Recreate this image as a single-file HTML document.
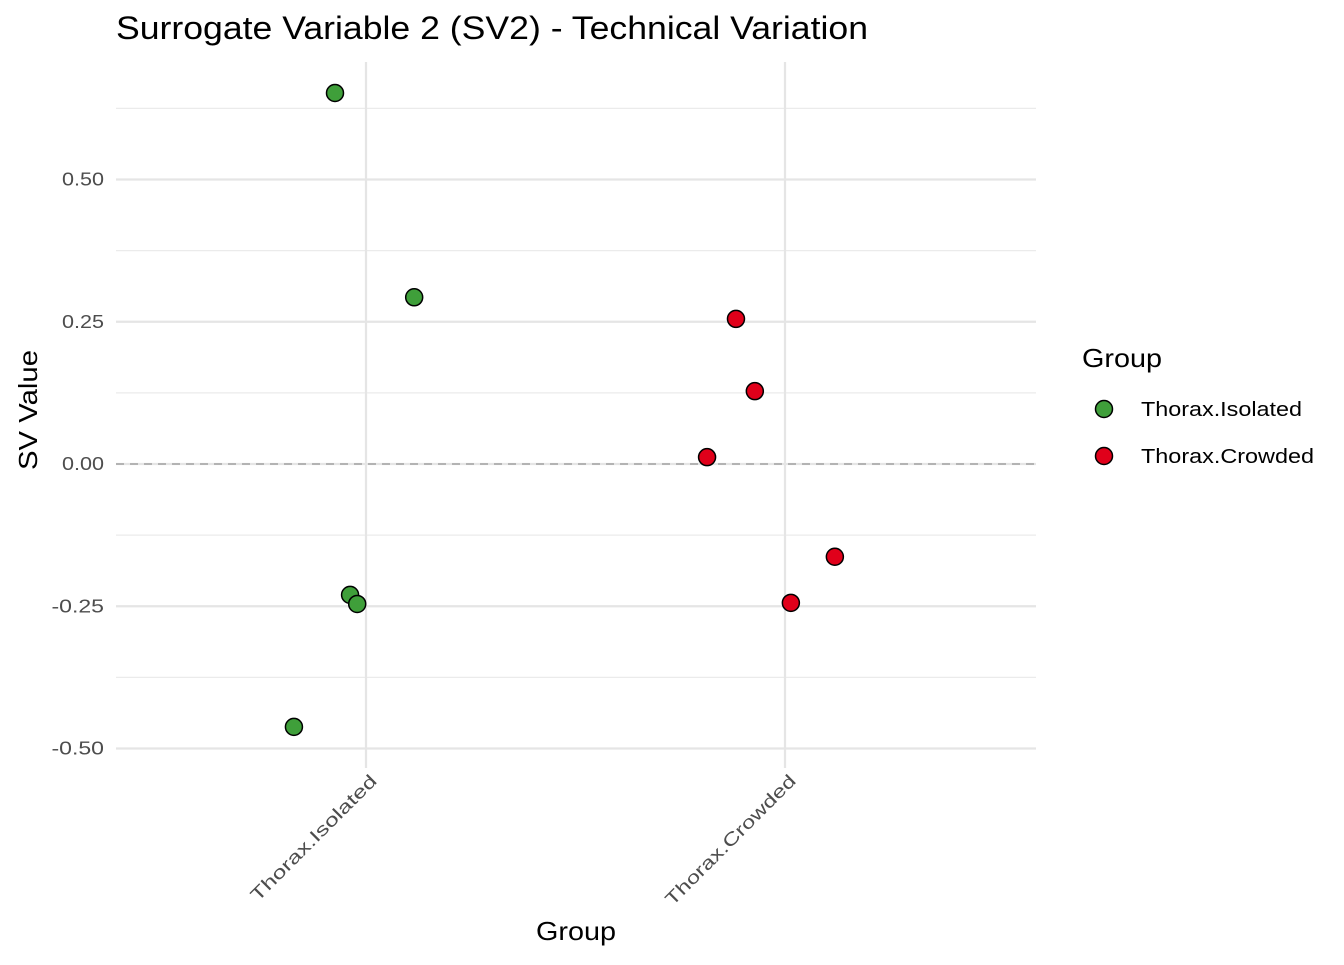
<!DOCTYPE html>
<html><head><meta charset="utf-8"><style>
body{margin:0;background:#fff;}
svg text{font-family:"Liberation Sans",Arial,sans-serif;}
</style></head><body>
<svg id="chart" width="1344" height="960">
<text x="116" y="39" font-size="32" textLength="752" lengthAdjust="spacingAndGlyphs" fill="#000">Surrogate Variable 2 (SV2) - Technical Variation</text>
<g id="grid"></g>
<g id="axes"></g>
<g id="points"></g>
<text x="536" y="940" font-size="26" textLength="80" lengthAdjust="spacingAndGlyphs">Group</text>
<text transform="translate(37,470) rotate(-90)" font-size="26" textLength="120" lengthAdjust="spacingAndGlyphs">SV Value</text>
<g>
<text x="1082" y="367" font-size="26" textLength="80" lengthAdjust="spacingAndGlyphs">Group</text>
<g>
<circle cx="1104" cy="409" r="8.5" fill="#3f9f3a" stroke="#000" stroke-width="1.5"/>
<text x="1141" y="416" font-size="20" textLength="161" lengthAdjust="spacingAndGlyphs">Thorax.Isolated</text></g>
<g>
<circle cx="1104" cy="456" r="8.5" fill="#e0001a" stroke="#000" stroke-width="1.5"/>
<text x="1141" y="463" font-size="20" textLength="173" lengthAdjust="spacingAndGlyphs">Thorax.Crowded</text></g>
</g>
</svg>
<script>
const categories = ["Thorax.Isolated","Thorax.Crowded"];
const colors = ["#3f9f3a","#e0001a"];
const isolatedValues = [0.652,0.293,-0.230,-0.246,-0.462];
const isolatedJitter = [-0.074,0.115,-0.038,-0.021,-0.172];
const crowdedValues = [0.255,0.128,0.012,-0.163,-0.244];
const crowdedJitter = [-0.117,-0.072,-0.186,0.119,0.014];
const yTicks = [-0.5,-0.25,0,0.25,0.5];
const yTickLabels = ["-0.50","-0.25","0.00","0.25","0.50"];
const yMinor = [-0.375,-0.125,0.125,0.375,0.625];

const NS="http://www.w3.org/2000/svg";
const L=116,R=1036;
const xLabelLen=[170,176];
function yScale(v){return 464 - v*569;}
function xScale(c){return 366 + (c-1)*419;}
function mk(tag,attrs,parent){const e=document.createElementNS(NS,tag);for(const k in attrs)e.setAttribute(k,attrs[k]);parent.appendChild(e);return e;}
const grid=document.getElementById('grid'),axes=document.getElementById('axes'),pts=document.getElementById('points');
yMinor.forEach(v=>{const l=mk('line',{x1:L,x2:R,y1:yScale(v),y2:yScale(v),stroke:'#ebebeb','stroke-width':1.2},grid);

});
yTicks.forEach((v,i)=>{const l=mk('line',{x1:L,x2:R,y1:yScale(v),y2:yScale(v),stroke:'#e5e5e5','stroke-width':2.2},grid);


const t=mk('text',{x:104,y:yScale(v)+6,'font-size':18,fill:'#4d4d4d','text-anchor':'end',textLength:yTickLabels[i].length*10.5,lengthAdjust:'spacingAndGlyphs'},axes);t.textContent=yTickLabels[i];

});
categories.forEach((c,i)=>{const x=xScale(i+1);
const l=mk('line',{x1:x,x2:x,y1:62,y2:768,stroke:'#e5e5e5','stroke-width':2.2},grid);


const t=mk('text',{x:0,y:0,'font-size':18,fill:'#4d4d4d','text-anchor':'end',textLength:xLabelLen[i],lengthAdjust:'spacingAndGlyphs',transform:`translate(${x+12},${782}) rotate(-45)`},axes);t.textContent=c;

});
const zl=mk('line',{x1:L,x2:R,y1:yScale(0),y2:yScale(0),stroke:'#b3b3b3','stroke-width':2,'stroke-dasharray':'8,6'},grid);


[[isolatedValues,isolatedJitter],[crowdedValues,crowdedJitter]].forEach((s,ci)=>{
s[0].forEach((v,i)=>{const c=mk('circle',{cx:xScale(ci+1+s[1][i]),cy:yScale(v),r:8.5,fill:colors[ci],stroke:'#000','stroke-width':1.5},pts);

});});
</script>
</body></html>
